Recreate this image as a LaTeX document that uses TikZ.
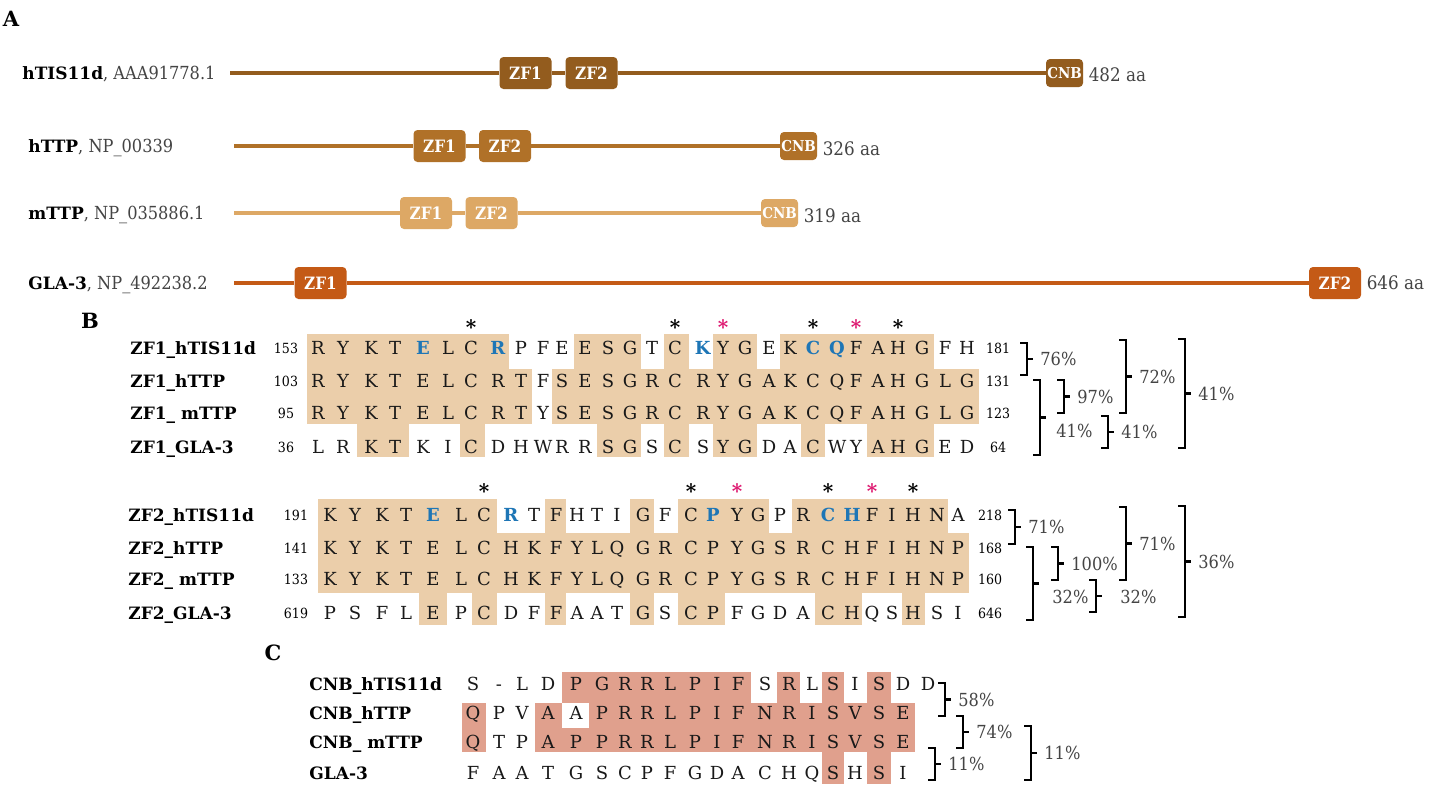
\documentclass[tikz,border=0pt]{standalone}
\usepackage{fontspec}
\setmainfont{DejaVu Serif}
\newfontfamily\condfont{DejaVu Serif Condensed}
\usepackage{xcolor}
\usepackage{tikz}
\usetikzlibrary{positioning}

\definecolor{tisbrown}{RGB}{147,92,30}
\definecolor{ttpbrown}{RGB}{176,113,40}
\definecolor{mttptan}{RGB}{221,168,101}
\definecolor{glarust}{RGB}{196,90,22}
\definecolor{zfshade}{RGB}{235,206,170}
\definecolor{cnbshade}{RGB}{224,160,141}
\definecolor{resblue}{RGB}{30,118,182}
\definecolor{starpink}{RGB}{222,24,112}
\definecolor{graytext}{RGB}{68,68,68}

\newcommand{\acc}[1]{{\condfont\fontsize{9}{10}\selectfont\color{graytext}#1}}
\newcommand{\blu}[1]{\textcolor{resblue}{\textbf{#1}}}
% one row of residues: column prefix, y, node prefix, letters
\newcommand{\resrow}[4]{\foreach \r [count=\i] in {#4} {\node[res] (#3\i) at (#1\i |- 0,#2) {\r};}}
% shaded cells: edge prefix, top, bottom, colour, list of from/to edges
\newcommand{\cellfill}[5]{\foreach \a/\b in {#5} {\fill[#4] (#1\a |- 0,#2) rectangle (#1\b |- 0,#3);}}
% identity bracket: name, x, top, bottom
\newcommand{\pctbrak}[4]{%
  \coordinate (#1) at (#2,{(#3+#4)/2});
  \draw[brak] (#2-7,#3) -- (#2,#3) -- (#2,#4) -- (#2-7,#4);
  \draw[brak] (#1) -- ++(6,0);}

\begin{document}
\begin{tikzpicture}[x=0.5pt, y=-0.5pt,
  panel/.style={font=\bfseries\fontsize{10.5}{12}\selectfont, inner sep=0pt},
  prot/.style={anchor=west, inner sep=0pt, font=\fontsize{8.5}{10}\selectfont, text height=6.2pt, text depth=0pt},
  zf/.style={rounded corners=2pt, minimum width=26pt, minimum height=16pt, inner sep=0pt, text=white, font=\condfont\bfseries\fontsize{8.5}{9}\selectfont},
  cnb/.style={zf, minimum width=18.5pt, minimum height=14pt, font=\condfont\bfseries\fontsize{7.5}{8}\selectfont},
  backbone/.style={line width=2pt},
  lenlab/.style={inner sep=0pt, text=graytext, font=\condfont\fontsize{9.3}{10}\selectfont, text height=6.6pt, text depth=0pt},
  seqname/.style={anchor=west, inner sep=0pt, font=\bfseries\fontsize{8.5}{10}\selectfont, text height=6.2pt, text depth=0pt},
  posnum/.style={inner sep=0pt, font=\condfont\fontsize{7}{8}\selectfont, text height=5.1pt, text depth=0pt},
  res/.style={inner sep=0pt, text=black!90, font=\fontsize{9}{10}\selectfont, text height=6.6pt, text depth=0pt},
  star/.style={inner sep=0pt, font=\bfseries\fontsize{10}{10}\selectfont},
  brak/.style={line width=1.2pt},
  pct/.style={anchor=west, inner sep=0pt, text=graytext, font=\condfont\fontsize{9}{10}\selectfont, text height=6.6pt, text depth=0pt}
]
\useasboundingbox (0,0) rectangle (1438,784);
\fill[white] (0,0) rectangle (1438,784);

% A: domain maps
\node[panel] (labA) at (11,19) {A};

\node[prot] (nTIS) at (22,73) {\textbf{hTIS11d}\acc{, AAA91778.1}};
\coordinate (sTIS) at (230,73);
\node[zf, fill=tisbrown] (zf1TIS) at (525.5,73) {ZF1};
\node[zf, fill=tisbrown] (zf2TIS) at (591.5,73) {ZF2};
\node[cnb, fill=tisbrown] (cnbTIS) at (1064.5,73) {CNB};
\draw[backbone, tisbrown] (sTIS) -- (zf1TIS) (zf1TIS) -- (zf2TIS) (zf2TIS) -- (cnbTIS);
\node[lenlab, right=2.5pt of cnbTIS, yshift=-1pt] (lenTIS) {482 aa};

\node[prot] (nTTP) at (28,146) {\textbf{hTTP}\acc{, NP\_00339}};
\coordinate (sTTP) at (234,146);
\node[zf, fill=ttpbrown] (zf1TTP) at (439.5,146) {ZF1};
\node[zf, fill=ttpbrown] (zf2TTP) at (505,146) {ZF2};
\node[cnb, fill=ttpbrown] (cnbTTP) at (798.5,146) {CNB};
\draw[backbone, ttpbrown] (sTTP) -- (zf1TTP) (zf1TTP) -- (zf2TTP) (zf2TTP) -- (cnbTTP);
\node[lenlab, right=2.5pt of cnbTTP, yshift=-1.5pt] (lenTTP) {326 aa};

\node[prot] (nmTTP) at (28,213) {\textbf{mTTP}\acc{, NP\_035886.1}};
\coordinate (smTTP) at (234,213);
\node[zf, fill=mttptan] (zf1mTTP) at (426,213) {ZF1};
\node[zf, fill=mttptan] (zf2mTTP) at (491.5,213) {ZF2};
\node[cnb, fill=mttptan] (cnbmTTP) at (779.5,213) {CNB};
\draw[backbone, mttptan] (smTTP) -- (zf1mTTP) (zf1mTTP) -- (zf2mTTP) (zf2mTTP) -- (cnbmTTP);
\node[lenlab, right=2.5pt of cnbmTTP, yshift=-1.5pt] (lenmTTP) {319 aa};

\node[prot] (nGLA) at (28,283) {\textbf{GLA-3}\acc{, NP\_492238.2}};
\coordinate (sGLA) at (234,283);
\node[zf, fill=glarust] (zf1GLA) at (320.5,283) {ZF1};
\node[zf, fill=glarust] (zf2GLA) at (1335,283) {ZF2};
\draw[backbone, glarust] (sGLA) -- (zf1GLA) (zf1GLA) -- (zf2GLA);
\node[lenlab, right=2.5pt of zf2GLA] (lenGLA) {646 aa};

% B: zinc fingers
\node[panel] (labB) at (90,321) {B};

% columns and cell edges
\foreach \x [count=\i] in {318,343,371,395,423,448,471,498,521,543,562,585,608,630,652,675,703,723,745,769,790,813,837,856,878,898,922,945,967}
  \coordinate (z1c\i) at (\x,0);
\foreach \x [count=\i from 0] in {307,330,357,383,409,435,460,485,509,532,552,574,597,619,641,664,689,713,734,757,780,801,825,846,867,888,910,934,956,979}
  \coordinate (z1e\i) at (\x,0);
\foreach \x [count=\i] in {330,355,382,406,433,461,484,511,534,556,577,597,617,643,665,691,713,737,758,780,803,828,852,872,892,913,937,958}
  \coordinate (z2c\i) at (\x,0);
\foreach \x [count=\i from 0] in {318,342,368,394,419,447,472,497,522,545,566,587,607,630,654,678,702,725,748,769,792,815,840,862,882,902,925,948,969}
  \coordinate (z2e\i) at (\x,0);

% ZF1
\cellfill{z1e}{334}{369}{zfshade}{0/8,11/14,15/16,17/19,20/27}
\cellfill{z1e}{369}{424}{zfshade}{0/9,10/29}
\cellfill{z1e}{424}{457}{zfshade}{2/4,6/7,12/14,15/16,17/19,21/22,24/27}
\resrow{z1c}{348}{z1a-}{R,Y,K,T,\blu{E},L,C,\blu{R},P,F,E,E,S,G,T,C,\blu{K},Y,G,E,K,\blu{C},\blu{Q},F,A,H,G,F,H}
\resrow{z1c}{381}{z1b-}{R,Y,K,T,E,L,C,R,T,F,S,E,S,G,R,C,R,Y,G,A,K,C,Q,F,A,H,G,L,G}
\resrow{z1c}{413}{z1m-}{R,Y,K,T,E,L,C,R,T,Y,S,E,S,G,R,C,R,Y,G,A,K,C,Q,F,A,H,G,L,G}
\resrow{z1c}{447}{z1g-}{L,R,K,T,K,I,C,D,H,W,R,R,S,G,S,C,S,Y,G,D,A,C,W,Y,A,H,G,E,D}
\foreach \c in {7,16,22,26} \node[star] (z1st\c) at (z1c\c |- 0,327) {*};
\foreach \c in {18,24} \node[star, text=starpink] (z1st\c) at (z1c\c |- 0,327) {*};
\foreach \y/\nm/\f/\t [count=\k] in {348/hTIS11d/153/181, 381/hTTP/103/131, 413/{\ mTTP}/95/123, 447/GLA-3/36/64} {
  \node[seqname] (z1name\k) at (130,\y) {ZF1\_\nm};
  \node[posnum] (z1from\k) at (286,\y) {\f};
  \node[posnum] (z1to\k) at (998,\y) {\t};
}
\pctbrak{bz1a}{1027}{343}{375} \node[pct, right=6.5pt of bz1a] (pz1a) {76\%};
\pctbrak{bz1b}{1040}{380}{455} \node[pct] (pz1b) at (1056,431) {41\%};
\pctbrak{bz1c}{1064}{380}{413} \node[pct, right=6.5pt of bz1c] (pz1c) {97\%};
\pctbrak{bz1d}{1108}{416}{448} \node[pct, right=6.5pt of bz1d] (pz1d) {41\%};
\pctbrak{bz1e}{1126}{340}{413} \node[pct, right=6.5pt of bz1e] (pz1e) {72\%};
\pctbrak{bz1f}{1185}{339}{448} \node[pct, right=6.5pt of bz1f] (pz1f) {41\%};

% ZF2
\cellfill{z2e}{499}{533}{zfshade}{0/7,9/10,13/14,15/19,20/27}
\cellfill{z2e}{533}{593}{zfshade}{0/28}
\cellfill{z2e}{593}{625}{zfshade}{4/5,6/7,9/10,13/14,15/17,21/23,25/26}
\resrow{z2c}{515}{z2a-}{K,Y,K,T,\blu{E},L,C,\blu{R},T,F,H,T,I,G,F,C,\blu{P},Y,G,P,R,\blu{C},\blu{H},F,I,H,N,A}
\resrow{z2c}{548}{z2b-}{K,Y,K,T,E,L,C,H,K,F,Y,L,Q,G,R,C,P,Y,G,S,R,C,H,F,I,H,N,P}
\resrow{z2c}{579}{z2m-}{K,Y,K,T,E,L,C,H,K,F,Y,L,Q,G,R,C,P,Y,G,S,R,C,H,F,I,H,N,P}
\resrow{z2c}{613}{z2g-}{P,S,F,L,E,P,C,D,F,F,A,A,T,G,S,C,P,F,G,D,A,C,H,Q,S,H,S,I}
\foreach \c in {7,16,22,26} \node[star] (z2st\c) at (z2c\c |- 0,491) {*};
\foreach \c in {18,24} \node[star, text=starpink] (z2st\c) at (z2c\c |- 0,491) {*};
\foreach \y/\nm/\f/\t [count=\k] in {515/hTIS11d/191/218, 548/hTTP/141/168, 579/{\ mTTP}/133/160, 613/GLA-3/619/646} {
  \node[seqname] (z2name\k) at (128,\y) {ZF2\_\nm};
  \node[posnum] (z2from\k) at (296,\y) {\f};
  \node[posnum] (z2to\k) at (990,\y) {\t};
}
\pctbrak{bz2a}{1015}{510}{544} \node[pct, right=6.5pt of bz2a] (pz2a) {71\%};
\pctbrak{bz2b}{1033}{547}{620} \node[pct] (pz2b) at (1052,597) {32\%};
\pctbrak{bz2c}{1058}{547}{580} \node[pct, right=6.5pt of bz2c] (pz2c) {100\%};
\pctbrak{bz2d}{1096}{580}{612} \node[pct] (pz2d) at (1120,597) {32\%};
\pctbrak{bz2e}{1126}{507}{580} \node[pct, right=6.5pt of bz2e] (pz2e) {71\%};
\pctbrak{bz2f}{1185}{506}{617} \node[pct, right=6.5pt of bz2f] (pz2f) {36\%};

% C: CNB motif
\node[panel] (labC) at (273,653) {C};
\foreach \x [count=\i] in {473,499,522,548,576,602,625,647,670,695,717,738,765,789,812,833,855,879,903,928}
  \coordinate (cnc\i) at (\x,0);
\foreach \x [count=\i from 0] in {462,486,510,535,562,589,613,636,658,682,706,727,751,777,800,822,844,867,891,915,940}
  \coordinate (cne\i) at (\x,0);
\cellfill{cne}{672}{703}{cnbshade}{4/12,13/14,15/16,17/18}
\cellfill{cne}{703}{728}{cnbshade}{0/1,3/4,5/19}
\cellfill{cne}{728}{752}{cnbshade}{0/1,3/19}
\cellfill{cne}{752}{784}{cnbshade}{15/16,17/18}
\resrow{cnc}{684}{cna-}{S,-,L,D,P,G,R,R,L,P,I,F,S,R,L,S,I,S,D,D}
\resrow{cnc}{713}{cnb-}{Q,P,V,A,A,P,R,R,L,P,I,F,N,R,I,S,V,S,E}
\resrow{cnc}{742}{cnm-}{Q,T,P,A,P,P,R,R,L,P,I,F,N,R,I,S,V,S,E}
\resrow{cnc}{773}{cng-}{F,A,A,T,G,S,C,P,F,G,D,A,C,H,Q,S,H,S,I}
\foreach \y/\nm [count=\k] in {684/CNB\_hTIS11d, 713/CNB\_hTTP, 742/{CNB\_\ mTTP}, 773/GLA-3}
  \node[seqname] (cnname\k) at (309,\y) {\nm};
\pctbrak{bca}{945}{683}{716} \node[pct, right=6.5pt of bca] (pca) {58\%};
\pctbrak{bcb}{963}{716}{748} \node[pct, right=6.5pt of bcb] (pcb) {74\%};
\pctbrak{bcc}{935}{748}{780} \node[pct, right=6.5pt of bcc] (pcc) {11\%};
\pctbrak{bcd}{1031}{726}{780} \node[pct, right=6.5pt of bcd] (pcd) {11\%};

\end{tikzpicture}
\end{document}
